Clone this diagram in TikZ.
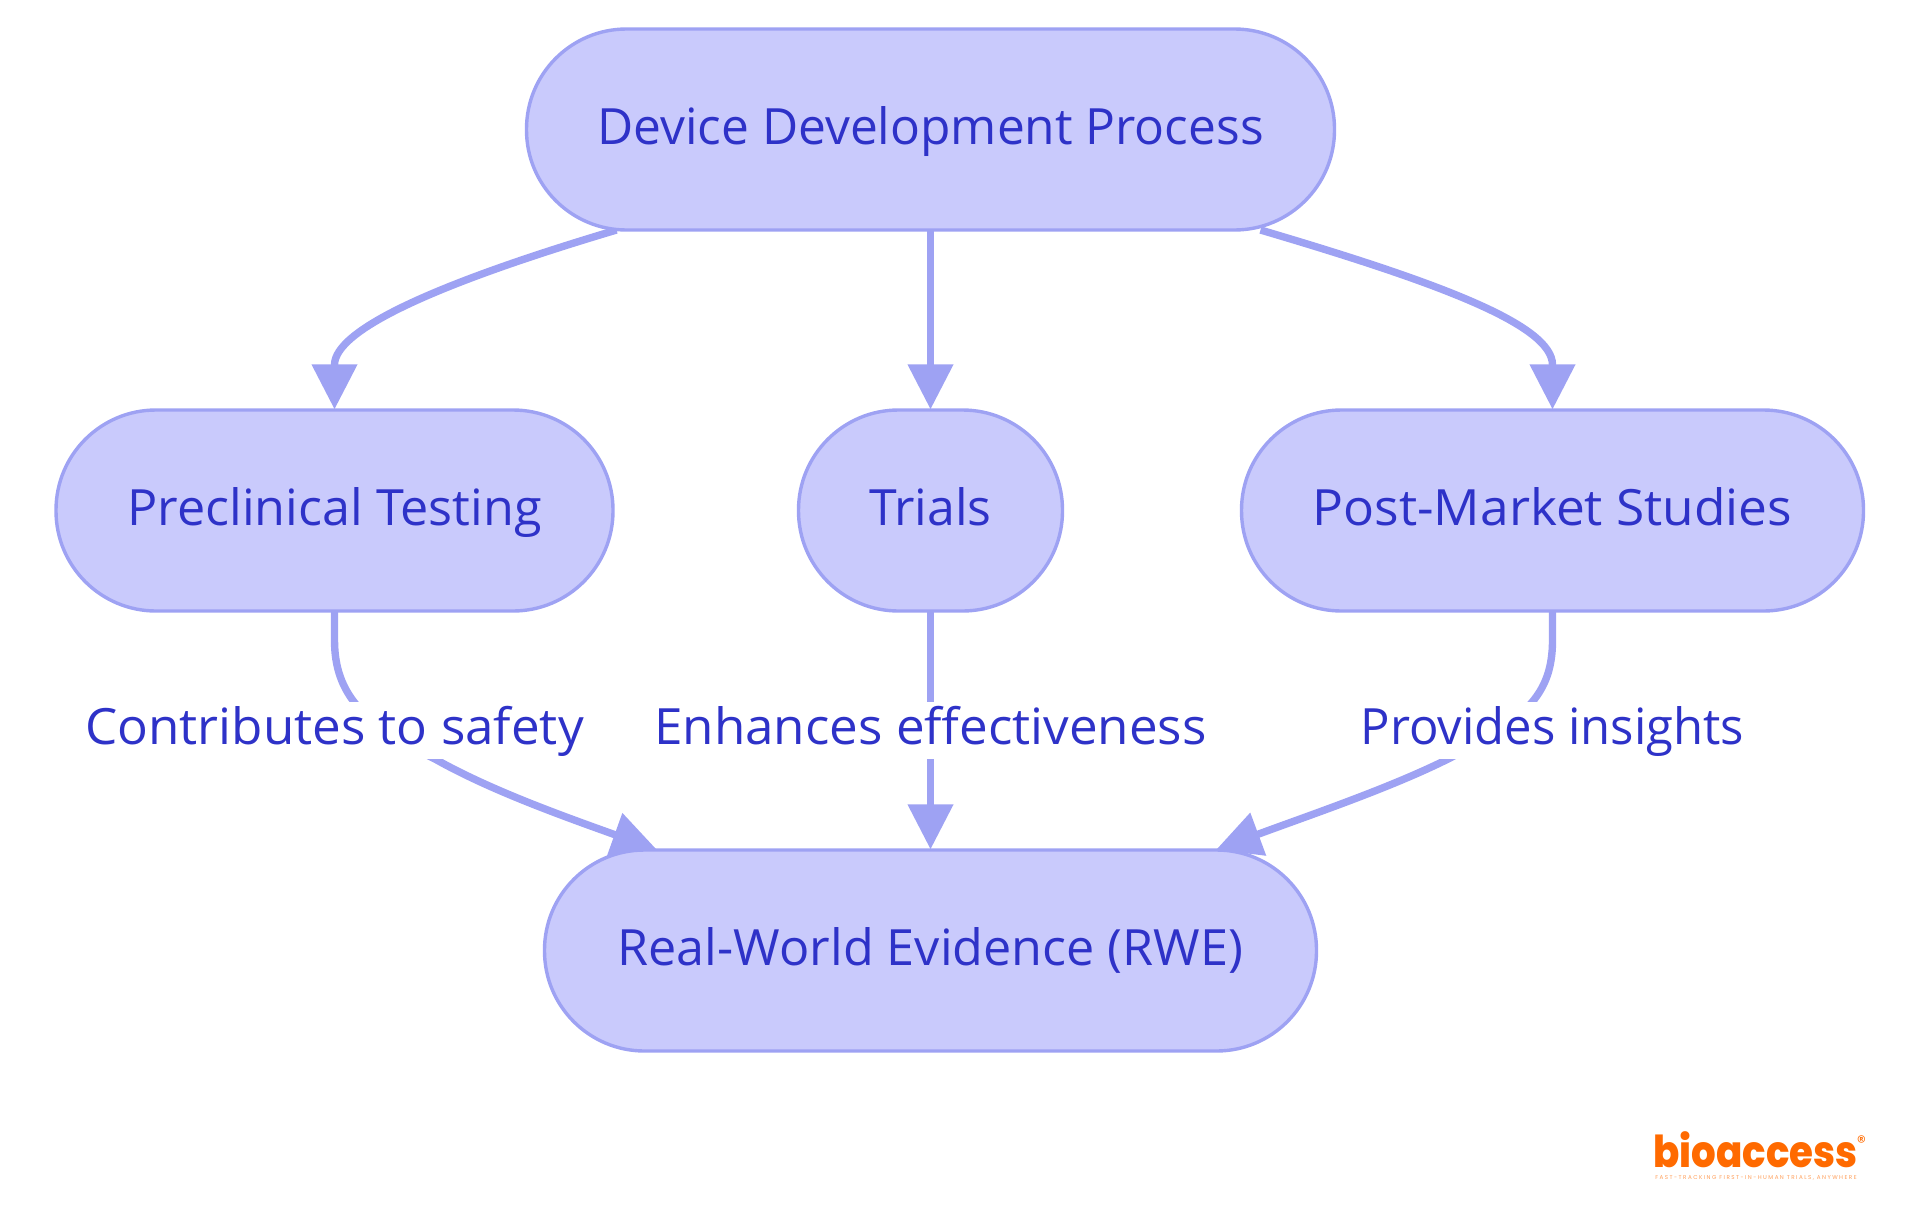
\documentclass[tikz,border=0pt]{standalone}
\usepackage{graphicx}
\usepackage{fontspec}
\setmainfont{Open Sans}
\newfontfamily\logofont{Poppins}
\newfontfamily\logoheavy{Poppins ExtraBold}
\usetikzlibrary{arrows.meta}
\pgfdeclarelayer{edges}
\pgfsetlayers{edges,main}
\definecolor{nodefill}{HTML}{C9CAFC}
\definecolor{nodeline}{HTML}{9EA2F3}
\definecolor{inktext}{HTML}{2E32C8}
\definecolor{logoorange}{HTML}{FF6A00}
\newcommand{\widthfit}[2]{\scalebox{#1}[1]{#2}}
\tikzset{
  stadium/.style={draw=nodeline,fill=nodefill,line width=1.7pt,rounded corners=50pt,
    inner sep=0pt,outer sep=0pt,align=center,text=inktext,font=\fontsize{25}{30}\selectfont,
    text height=57.5pt,text depth=43pt,anchor=north},
  edgeline/.style={draw=nodeline,line width=3.7pt,shorten >=0.3pt,-{Triangle[length=22.5pt,width=22pt]}},
  edgelabel/.style={fill=white,inner sep=0pt,text=inktext,font=\fontsize{25}{30}\selectfont,
    minimum height=28.6pt,text height=21.6pt,text depth=7pt},
}
\begin{document}
\begin{tikzpicture}[x=0.5pt,y=-0.5pt]
\useasboundingbox (0,0) rectangle (1920,1215);
\node[stadium,minimum width=404pt] (top) at (930.5,29) {\widthfit{.993}{Device Development Process}};
\node[stadium,minimum width=278.5pt] (pre) at (334.5,410) {\widthfit{1.006}{Preclinical Testing}};
\node[stadium,minimum width=132pt] (tri) at (930.5,410) {Trials};
\node[stadium,minimum width=311pt] (post) at (1552.5,410) {\widthfit{1.029}{Post-Market Studies}};
\node[stadium,minimum width=386pt] (rwe) at (930.5,850) {\widthfit{1.006}{Real-World Evidence (RWE)}};
\begin{pgfonlayer}{edges}
\draw[edgeline] ([xshift=-157pt]top.south) .. controls (435,284) and (334.5,330) .. (334.5,365) -- (pre.north);
\draw[edgeline] (top.south) -- (tri.north);
\draw[edgeline] ([xshift=165pt]top.south) .. controls (1440,283) and (1552.5,325) .. (1552.5,365) -- (post.north);
\draw[edgeline] (pre.south) -- (334.5,640) .. controls (334.5,695) and (365,725) .. (435,759) .. controls (490,790) and (560,815) .. ([xshift=-136.5pt]rwe.north);
\draw[edgeline] (tri.south) -- (rwe.north);
\draw[edgeline] (post.south) -- (1552.5,640) .. controls (1552.5,695) and (1525,720) .. (1448,759) .. controls (1390,788) and (1310,815) .. ([xshift=142.5pt]rwe.north);
\end{pgfonlayer}
\node[edgelabel,minimum width=247.5pt] (l1) at (334.5,730.3) {\widthfit{1.023}{Contributes to safety}};
\node[edgelabel,minimum width=275pt] (l2) at (930.5,730.3) {\widthfit{1.023}{Enhances effectiveness}};
\node[edgelabel,minimum width=192pt] (l3) at (1552.5,730.3) {\widthfit{.98}{Provides insights}};
\node[anchor=base west,inner sep=0pt,text=logoorange,font=\logoheavy\fontsize{22}{26}\selectfont] (logo) at (1653,1167.5) {\scalebox{.88}[1]{bioaccess}};
\node[anchor=center,inner sep=0pt,text=logoorange,font=\logofont\fontsize{9}{10}\selectfont] (reg) at (1861.5,1142) {®};
\node[anchor=base west,inner sep=0pt,text=logoorange!65,font=\logofont\addfontfeature{LetterSpace=26}\fontsize{2.8}{3}\selectfont] (tag) at (1655,1179) {FAST-TRACKING FIRST-IN-HUMAN TRIALS, ANYWHERE};
\end{tikzpicture}
\end{document}
